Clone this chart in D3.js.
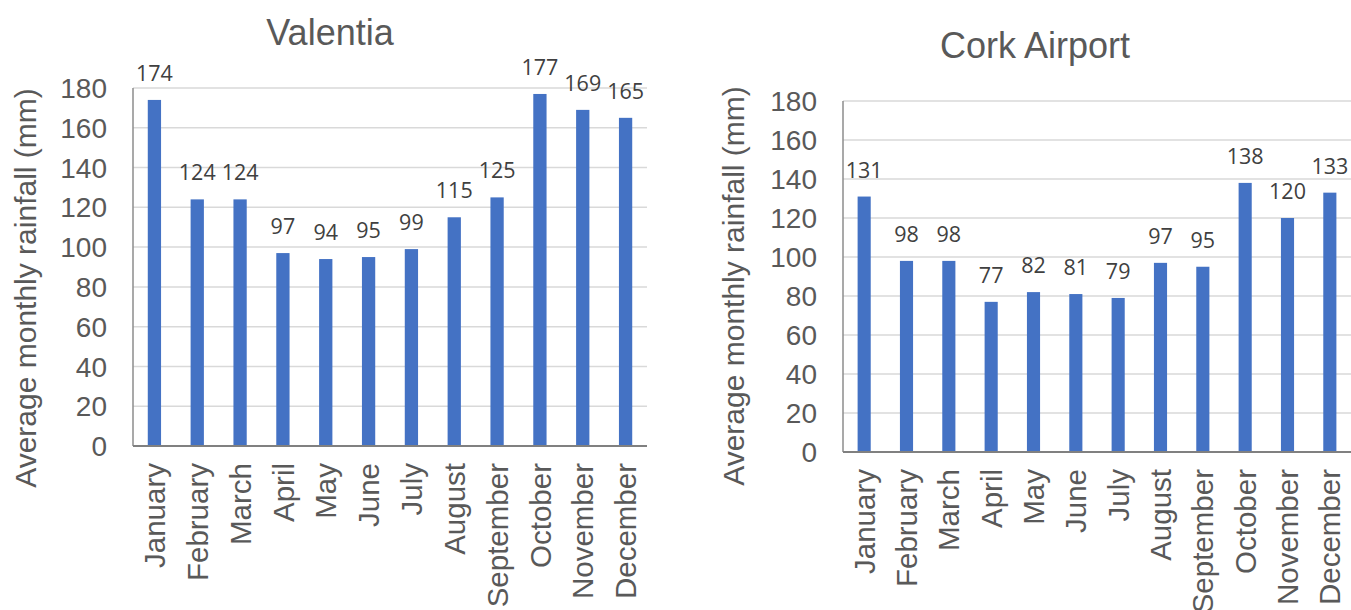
<!DOCTYPE html>
<html>
<head>
<meta charset="utf-8">
<script src="https://cdn.jsdelivr.net/npm/d3@7"></script>
<style>
  body { margin: 0; background: #fff; }
  svg text { font-family: "Liberation Sans", Arial, sans-serif; }
</style>
</head>
<body>
<div id="chart"></div>
<script>
var months = ["January", "February", "March", "April", "May", "June", "July",
              "August", "September", "October", "November", "December"];
var valentiaRain = [174, 124, 124, 97, 94, 95, 99, 115, 125, 177, 169, 165];
var corkRain = [131, 98, 98, 77, 82, 81, 79, 97, 95, 138, 120, 133];
var yTicks = [0, 20, 40, 60, 80, 100, 120, 140, 160, 180];
var yTitle = "Average monthly rainfall (mm)";

var w = 1351;
var h = 610;

var svg = d3.select("#chart")
    .append("svg")
    .attr("width", w)
    .attr("height", h);

function drawChart(opt) {
  var x = d3.scaleBand()
      .domain(months)
      .range([opt.left, opt.right])
      .paddingInner(0.69)
      .paddingOuter(0.345);

  var y = d3.scaleLinear()
      .domain([0, 180])
      .range([opt.bottom, opt.top]);

  var g = svg.append("g");

  // gridlines
  g.selectAll("line.grid")
    .data(yTicks.filter(function(d) { return d > 0; }))
    .enter()
    .append("line")
    .attr("class", "grid")
    .attr("x1", opt.left)
    .attr("x2", opt.right)
    .attr("y1", function(d) { return y(d); })
    .attr("y2", function(d) { return y(d); })
    .attr("stroke", "#d9d9d9")
    .attr("stroke-width", 1.5);

  // bars
  g.selectAll("rect")
    .data(opt.values)
    .enter()
    .append("rect")
    .attr("x", function(d, i) { return x(months[i]); })
    .attr("y", function(d) { return y(d); })
    .attr("width", x.bandwidth())
    .attr("height", function(d) { return y(0) - y(d); })
    .attr("fill", "#4472c4");

  // axis lines
  g.append("line")
    .attr("x1", opt.left).attr("x2", opt.left)
    .attr("y1", y(180)).attr("y2", y(0))
    .attr("stroke", "#8c8c8c").attr("stroke-width", 1.5);
  g.append("line")
    .attr("x1", opt.left).attr("x2", opt.right)
    .attr("y1", y(0)).attr("y2", y(0))
    .attr("stroke", "#808080").attr("stroke-width", 2);

  // y tick labels
  g.selectAll("text.ytick")
    .data(yTicks)
    .enter()
    .append("text")
    .attr("class", "ytick")
    .attr("x", opt.left - 26)
    .attr("y", function(d) { return y(d); })
    .attr("dy", "0.36em")
    .attr("text-anchor", "end")
    .style("font-size", "28px")
    .style("fill", "#595959")
    .text(function(d) { return d; });

  // x labels, rotated
  g.selectAll("text.xlab")
    .data(months)
    .enter()
    .append("text")
    .attr("class", "xlab")
    .attr("transform", function(d) {
      return "translate(" + (x(d) + x.bandwidth() / 2) + "," + (y(0) + 17) + ") rotate(-90)";
    })
    .attr("dy", "0.36em")
    .attr("text-anchor", "end")
    .style("font-size", "29.5px")
    .style("fill", "#595959")
    .text(function(d) { return d; });

  // data labels
  g.selectAll("text.val")
    .data(opt.values)
    .enter()
    .append("text")
    .attr("class", "val")
    .attr("x", function(d, i) { return x(months[i]) + x.bandwidth() / 2; })
    .attr("y", function(d) { return y(d) - 19; })
    .attr("text-anchor", "middle")
    .style("font-family", "'Open Sans', 'Noto Sans', sans-serif")
    .style("font-size", "21.5px")
    .style("fill", "#404040")
    .text(function(d) { return d; });

  // title
  g.append("text")
    .attr("x", opt.titleX)
    .attr("y", opt.titleY)
    .attr("text-anchor", "middle")
    .style("font-size", "36px")
    .style("fill", "#595959")
    .text(opt.title);

  // y axis title
  g.append("text")
    .attr("transform", "translate(" + opt.yTitleX + "," + opt.yTitleY + ") rotate(-90)")
    .attr("text-anchor", "middle")
    .style("font-size", "30px")
    .style("fill", "#595959")
    .text(yTitle);
}

drawChart({
  title: "Valentia", values: valentiaRain,
  left: 133, right: 647, top: 88, bottom: 446,
  titleX: 330, titleY: 45, yTitleX: 36, yTitleY: 288
});

drawChart({
  title: "Cork Airport", values: corkRain,
  left: 843, right: 1351, top: 101, bottom: 452,
  titleX: 1035, titleY: 58, yTitleX: 744, yTitleY: 286
});
</script>
</body>
</html>
